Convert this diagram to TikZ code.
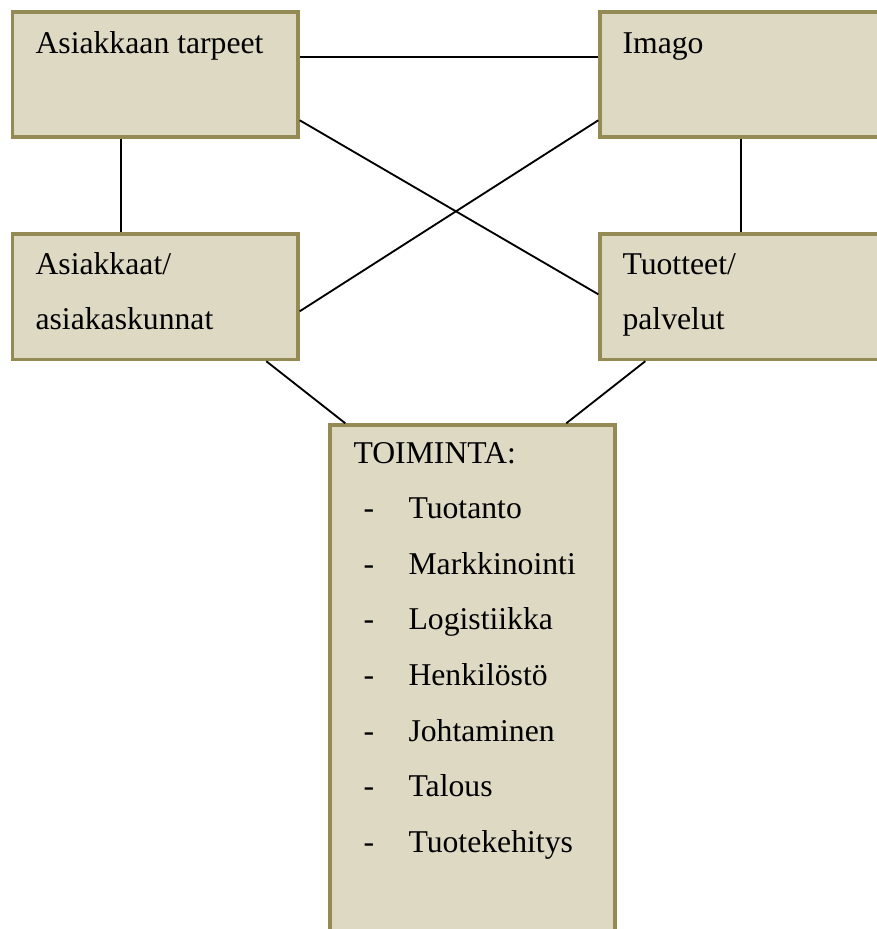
\documentclass[tikz,border=0pt]{standalone}
\usepackage{fontspec}
\setmainfont{Liberation Serif}
\usetikzlibrary{fit,calc}
\definecolor{boxfill}{HTML}{DDD9C3}
\definecolor{boxline}{HTML}{948A54}
\tikzset{
  box/.style={draw=boxline, fill=boxfill, line width=1.3pt, inner sep=0pt, rectangle},
  txt/.style={anchor=base west, inner sep=0pt, font=\fontsize{12}{14}\selectfont},
  conn/.style={draw=black, line width=0.7pt}
}
\begin{document}
\begin{tikzpicture}[x=0.3785pt, y=-0.3785pt]
\useasboundingbox (0,0) rectangle (877,929);
\clip (0,0) rectangle (877,929);
% box corners
\coordinate (a1) at (12.5,12);  \coordinate (a2) at (298,137);
\coordinate (i1) at (600,12);   \coordinate (i2) at (895,137);
\coordinate (c1) at (12.5,234); \coordinate (c2) at (298,359.5);
\coordinate (t1) at (600,234);  \coordinate (t2) at (895,359.5);
\coordinate (o1) at (330,425);  \coordinate (o2) at (615,945);
\node[box, fit=(a1)(a2)] (A) {};
\node[box, fit=(i1)(i2)] (I) {};
\node[box, fit=(c1)(c2)] (C) {};
\node[box, fit=(t1)(t2)] (T) {};
\node[box, fit=(o1)(o2)] (O) {};
\draw[conn] ($(A.north east)+(0,47)$) -- ($(I.north west)+(0,47)$);
\draw[conn] ($(A.south west)+(110.5,0)$) -- ($(C.north west)+(110.5,0)$);
\draw[conn] ($(I.south west)+(143,0)$) -- ($(T.north west)+(143,0)$);
\draw[conn] ($(A.north east)+(0,110)$) -- ($(T.north west)+(0,62)$);
\draw[conn] ($(I.north west)+(0,110)$) -- ($(C.north east)+(0,79)$);
\draw[conn] ($(C.south west)+(255.5,0)$) -- ($(O.north west)+(17,0)$);
\draw[conn] ($(T.south west)+(47,0)$) -- ($(O.north west)+(238,0)$);
% texts
\node[txt] (ta) at (35,53) {Asiakkaan tarpeet};
\node[txt] (im) at (622,53) {Imago};
\node[txt] (as1) at (35,274) {Asiakkaat/};
\node[txt] (as2) at (35,329) {asiakaskunnat};
\node[txt] (tu1) at (622,274) {Tuotteet/};
\node[txt] (tu2) at (622,329) {palvelut};
\node[txt] (toi) at (353,463) {TOIMINTA:};
\foreach \n/\t [count=\k from 1] in {1/Tuotanto,2/Markkinointi,3/Logistiikka,4/Henkilöstö,5/Johtaminen,6/Talous,7/Tuotekehitys}{
  \node[txt] (d\n) at (363,{463+55.6*\k}) {-};
  \node[txt] (l\n) at (408,{463+55.6*\k}) {\t};
}
\end{tikzpicture}
\end{document}
